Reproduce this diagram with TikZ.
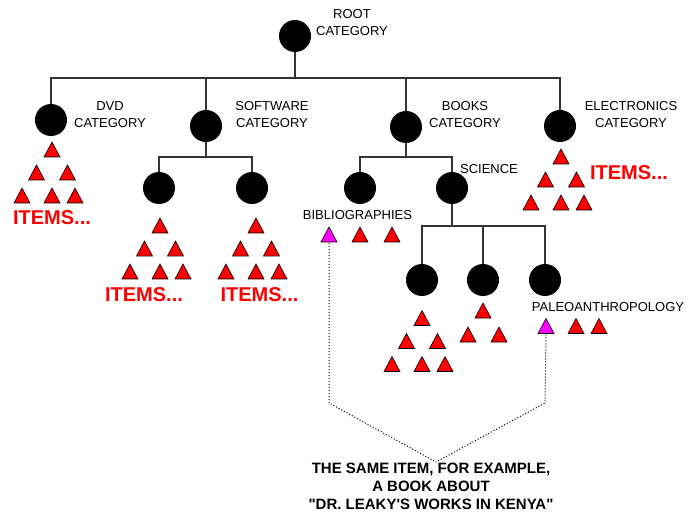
\documentclass[tikz,border=0pt]{standalone}
\usepackage{fontspec}
\setmainfont{Liberation Sans}
\newfontfamily\notefont{Liberation Sans}
\definecolor{linegray}{HTML}{333333}
\definecolor{magentatri}{HTML}{FF00FF}
\newcommand\mypyramid[2]{%
  \foreach \dx/\dy in {0/0,-15.5/23,15.5/23,-30/46,0/46,23/46}
    \pic at (#1+\dx,#2+\dy) {tri=red};}
\begin{document}
\begin{tikzpicture}[x=1pt,y=-1pt,
  cat/.style={circle,fill=black,minimum size=32pt,inner sep=0pt},
  lbl/.style={font=\fontsize{13}{17}\selectfont,align=center,inner sep=0pt},
  items/.style={font=\fontsize{20}{24}\selectfont\bfseries,text=red,inner sep=0pt},
  note/.style={font=\notefont\fontsize{15}{18}\selectfont\bfseries,align=center,inner sep=0pt},
  link/.style={draw=linegray,line width=1.3pt},
  same/.style={draw=black,line width=1pt,dash pattern=on 1pt off 2pt},
  pics/tri/.style={code={\filldraw[fill=#1,draw=black,line width=0.6pt]
      (-8,7.5) -- (8,7.5) -- (0,-7.5) -- cycle;}}]
\useasboundingbox (0,0) rectangle (691,513);

% category nodes
\node[cat] (root) at (295,36) {};
\node[cat] (dvd) at (51,120) {};
\node[cat] (soft) at (206,126) {};
\node[cat] (books) at (406,127) {};
\node[cat] (elec) at (560,126) {};
\node[cat] (s1) at (159,188) {};
\node[cat] (s2) at (252,188) {};
\node[cat] (bib) at (360,188) {};
\node[cat] (sci) at (452,188) {};
\node[cat] (c1) at (422,280) {};
\node[cat] (c2) at (483,280) {};
\node[cat] (paleo) at (545,280) {};

% bus coordinates
\coordinate (bus0) at (295,78);
\coordinate (bus1) at (206,157);
\coordinate (bus2) at (406,157);
\coordinate (bus3) at (452,226);

% connectors
\draw[link] (root) -- (bus0);
\draw[link] (bus0) -| (dvd);
\draw[link] (bus0) -| (soft);
\draw[link] (bus0) -| (books);
\draw[link] (bus0) -| (elec);
\draw[link] (soft) -- (bus1);
\draw[link] (bus1) -| (s1);
\draw[link] (bus1) -| (s2);
\draw[link] (books) -- (bus2);
\draw[link] (bus2) -| (bib);
\draw[link] (bus2) -| (sci);
\draw[link] (sci) -- (bus3);
\draw[link] (bus3) -| (c1);
\draw[link] (bus3) -| (c2);
\draw[link] (bus3) -| (paleo);

% labels
\node[lbl] (lroot) at (352,22.5) {ROOT\\CATEGORY};
\node[lbl] (ldvd) at (110,115) {DVD\\CATEGORY};
\node[lbl] (lsoft) at (272,115) {SOFTWARE\\CATEGORY};
\node[lbl] (lbooks) at (465,115) {BOOKS\\CATEGORY};
\node[lbl] (lelec) at (631,115) {ELECTRONICS\\CATEGORY};
\node[lbl] (lsci) at (489,169) {SCIENCE};
\node[lbl] (lbib) at (357.5,215) {BIBLIOGRAPHIES};
\node[lbl] (lpaleo) at (608,307) {PALEOANTHROPOLOGY};

% item pyramids
\mypyramid{52}{149.5}
\mypyramid{160}{225.5}
\mypyramid{256}{225.5}
\mypyramid{561}{156.5}
\mypyramid{422}{318}
\pic at (483,310.5) {tri=red};
\pic at (468,334.5) {tri=red};
\pic at (499,334.5) {tri=red};

% bibliographies and paleoanthropology items
\pic at (329,234.5) {tri=magentatri};
\pic at (360,234.5) {tri=red};
\pic at (392,234.5) {tri=red};
\pic at (546,326) {tri=magentatri};
\pic at (576,326) {tri=red};
\pic at (599,326) {tri=red};

% ITEMS labels
\node[items] (i1) at (52,217.5) {ITEMS...};
\node[items] (i2) at (144,294.5) {ITEMS...};
\node[items] (i3) at (259.5,294.5) {ITEMS...};
\node[items] (i4) at (629,172.5) {ITEMS...};

% note and dotted connectors
\node[note] (same) at (431,486) {THE SAME ITEM, FOR EXAMPLE,\\A BOOK ABOUT\\"DR. LEAKY'S WORKS IN KENYA"};
\coordinate (m1) at (329,243);
\coordinate (m2) at (546,334.5);
\coordinate (k1) at (329,403);
\coordinate (k2) at (545,403);
\coordinate (meet) at (436,462);
\draw[same] (m1) -- (k1) -- (meet);
\draw[same] (m2) -- (k2) -- (meet);
\end{tikzpicture}
\end{document}
